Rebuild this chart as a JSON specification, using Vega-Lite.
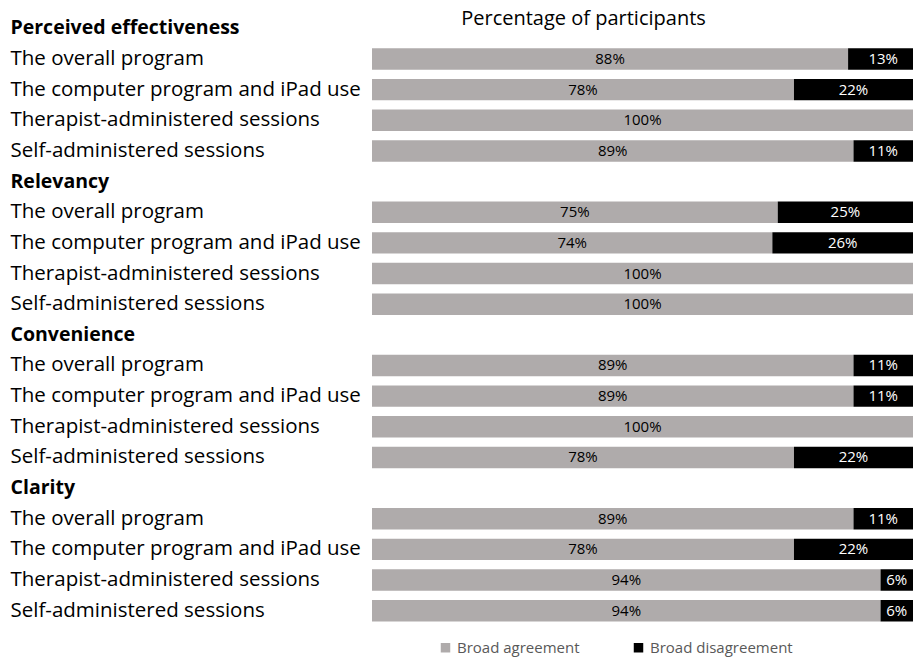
{
  "$schema": "https://vega.github.io/schema/vega-lite/v6.json",
  "width": 541,
  "height": 613,
  "autosize": {"type": "none"},
  "padding": {"left": 372, "top": 13, "right": 1, "bottom": 31},
  "background": "white",
  "config": {"view": {"stroke": null}, "font": "Open Sans"},
  "data": {
    "values": [
      {"row": "Perceived effectiveness|The overall program", "type": "Broad agreement", "pct": 88, "label": "88%", "ord": 1},
      {"row": "Perceived effectiveness|The overall program", "type": "Broad disagreement", "pct": 13, "label": "13%", "ord": 2},
      {"row": "Perceived effectiveness|The computer program and iPad use", "type": "Broad agreement", "pct": 78, "label": "78%", "ord": 1},
      {"row": "Perceived effectiveness|The computer program and iPad use", "type": "Broad disagreement", "pct": 22, "label": "22%", "ord": 2},
      {"row": "Perceived effectiveness|Therapist-administered sessions", "type": "Broad agreement", "pct": 100, "label": "100%", "ord": 1},
      {"row": "Perceived effectiveness|Self-administered sessions", "type": "Broad agreement", "pct": 89, "label": "89%", "ord": 1},
      {"row": "Perceived effectiveness|Self-administered sessions", "type": "Broad disagreement", "pct": 11, "label": "11%", "ord": 2},
      {"row": "Relevancy|The overall program", "type": "Broad agreement", "pct": 75, "label": "75%", "ord": 1},
      {"row": "Relevancy|The overall program", "type": "Broad disagreement", "pct": 25, "label": "25%", "ord": 2},
      {"row": "Relevancy|The computer program and iPad use", "type": "Broad agreement", "pct": 74, "label": "74%", "ord": 1},
      {"row": "Relevancy|The computer program and iPad use", "type": "Broad disagreement", "pct": 26, "label": "26%", "ord": 2},
      {"row": "Relevancy|Therapist-administered sessions", "type": "Broad agreement", "pct": 100, "label": "100%", "ord": 1},
      {"row": "Relevancy|Self-administered sessions", "type": "Broad agreement", "pct": 100, "label": "100%", "ord": 1},
      {"row": "Convenience|The overall program", "type": "Broad agreement", "pct": 89, "label": "89%", "ord": 1},
      {"row": "Convenience|The overall program", "type": "Broad disagreement", "pct": 11, "label": "11%", "ord": 2},
      {"row": "Convenience|The computer program and iPad use", "type": "Broad agreement", "pct": 89, "label": "89%", "ord": 1},
      {"row": "Convenience|The computer program and iPad use", "type": "Broad disagreement", "pct": 11, "label": "11%", "ord": 2},
      {"row": "Convenience|Therapist-administered sessions", "type": "Broad agreement", "pct": 100, "label": "100%", "ord": 1},
      {"row": "Convenience|Self-administered sessions", "type": "Broad agreement", "pct": 78, "label": "78%", "ord": 1},
      {"row": "Convenience|Self-administered sessions", "type": "Broad disagreement", "pct": 22, "label": "22%", "ord": 2},
      {"row": "Clarity|The overall program", "type": "Broad agreement", "pct": 89, "label": "89%", "ord": 1},
      {"row": "Clarity|The overall program", "type": "Broad disagreement", "pct": 11, "label": "11%", "ord": 2},
      {"row": "Clarity|The computer program and iPad use", "type": "Broad agreement", "pct": 78, "label": "78%", "ord": 1},
      {"row": "Clarity|The computer program and iPad use", "type": "Broad disagreement", "pct": 22, "label": "22%", "ord": 2},
      {"row": "Clarity|Therapist-administered sessions", "type": "Broad agreement", "pct": 94, "label": "94%", "ord": 1},
      {"row": "Clarity|Therapist-administered sessions", "type": "Broad disagreement", "pct": 6, "label": "6%", "ord": 2},
      {"row": "Clarity|Self-administered sessions", "type": "Broad agreement", "pct": 94, "label": "94%", "ord": 1},
      {"row": "Clarity|Self-administered sessions", "type": "Broad disagreement", "pct": 6, "label": "6%", "ord": 2}
    ]
  },
  "encoding": {
    "y": {
      "field": "row",
      "type": "nominal",
      "scale": {
        "domain": [
          "Perceived effectiveness",
          "Perceived effectiveness|The overall program",
          "Perceived effectiveness|The computer program and iPad use",
          "Perceived effectiveness|Therapist-administered sessions",
          "Perceived effectiveness|Self-administered sessions",
          "Relevancy",
          "Relevancy|The overall program",
          "Relevancy|The computer program and iPad use",
          "Relevancy|Therapist-administered sessions",
          "Relevancy|Self-administered sessions",
          "Convenience",
          "Convenience|The overall program",
          "Convenience|The computer program and iPad use",
          "Convenience|Therapist-administered sessions",
          "Convenience|Self-administered sessions",
          "Clarity",
          "Clarity|The overall program",
          "Clarity|The computer program and iPad use",
          "Clarity|Therapist-administered sessions",
          "Clarity|Self-administered sessions"
        ],
        "paddingInner": 0.3,
        "paddingOuter": 0.15
      },
      "axis": {
        "title": null,
        "ticks": false,
        "domain": false,
        "grid": false,
        "labelAlign": "left",
        "labelBaseline": "middle",
        "labelPadding": 362,
        "labelFont": "Open Sans",
        "labelFontSize": {"condition": {"test": "indexof(datum.value, '|') < 0", "value": 19.5}, "value": 20.5},
        "labelColor": "black",
        "labelLimit": 0,
        "labelExpr": "indexof(datum.value, '|') >= 0 ? split(datum.value, '|')[1] : datum.value",
        "labelFontWeight": {"condition": {"test": "indexof(datum.value, '|') < 0", "value": "bold"}, "value": "normal"}
      }
    },
    "order": {"field": "ord", "type": "quantitative"}
  },
  "layer": [
    {
      "mark": {"type": "bar", "clip": true},
      "encoding": {
        "x": {
          "field": "pct",
          "type": "quantitative",
          "stack": "zero",
          "scale": {"domain": [0, 100], "nice": false},
          "axis": {
            "orient": "top",
            "labels": false,
            "ticks": false,
            "domain": false,
            "grid": false,
            "title": "Percentage of participants",
            "titleX": 211,
            "titleY": 5,
            "titleBaseline": "middle",
            "titleFont": "Open Sans",
            "titleFontSize": 20,
            "titleFontWeight": "normal",
            "titleColor": "black"
          }
        },
        "color": {
          "field": "type",
          "type": "nominal",
          "scale": {"domain": ["Broad agreement", "Broad disagreement"], "range": ["#AFABAB", "#000000"]},
          "legend": {
            "title": null,
            "orient": "none",
            "direction": "horizontal",
            "legendX": 66,
            "legendY": 627,
            "symbolType": "square",
            "symbolSize": 90,
            "symbolStrokeWidth": 0,
            "symbolOpacity": 1,
            "labelFont": "Open Sans",
            "labelFontSize": 15,
            "labelColor": "#595959",
            "labelOffset": 4,
            "columnPadding": 51,
            "labelLimit": 0
          }
        }
      }
    },
    {
      "mark": {"type": "text", "font": "Open Sans", "fontSize": 15, "baseline": "middle", "align": "center"},
      "encoding": {
        "x": {"field": "pct", "type": "quantitative", "stack": "zero", "bandPosition": 0.5},
        "detail": {"field": "type"},
        "text": {"field": "label", "type": "nominal"},
        "color": {"condition": {"test": "datum.type === 'Broad disagreement'", "value": "white"}, "value": "black"}
      }
    }
  ]
}
